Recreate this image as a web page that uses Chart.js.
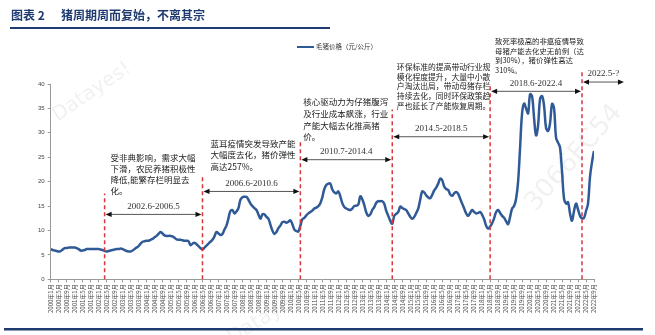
<!DOCTYPE html>
<html>
<head>
<meta charset="utf-8">
<script src="https://cdn.jsdelivr.net/npm/chart.js@4.4.0/dist/chart.umd.min.js"></script>
<style>
  html, body { margin: 0; padding: 0; background: #fff; }
  #wrap { width: 655px; height: 335px; position: relative; }
</style>
</head>
<body>
<div id="wrap"><canvas id="hogChart"></canvas></div>
<script>
// monthly hog price (yuan/kg), Jan 2000 .. Sep 2022
const p2000 = [6.2, 6.0, 5.9, 5.8, 5.7, 5.8, 6.1, 6.4, 6.4, 6.5, 6.5, 6.5];
const p2001 = [6.5, 6.4, 6.2, 5.9, 5.9, 6.0, 6.2, 6.2, 6.2, 6.2, 6.2, 6.2];
const p2002 = [6.2, 6.1, 6.0, 5.8, 5.7, 5.8, 5.9, 6.0, 6.1, 6.2, 6.2, 6.3];
const p2003 = [6.2, 6.0, 5.8, 5.7, 5.7, 5.9, 6.2, 6.5, 6.8, 7.3, 7.7, 7.8];
const p2004 = [7.9, 7.9, 8.1, 8.3, 8.6, 8.9, 9.3, 9.7, 9.4, 9.0, 8.9, 8.9];
const p2005 = [8.9, 8.8, 8.5, 8.2, 8.1, 8.1, 8.0, 7.9, 7.9, 7.8, 7.0, 7.3];
const p2006 = [7.5, 7.2, 6.8, 6.4, 6.1, 6.5, 6.9, 7.3, 7.7, 8.1, 8.8, 9.7];
const p2007 = [9.4, 9.1, 9.3, 10.2, 11.0, 12.5, 14.0, 14.2, 13.5, 13.9, 14.6, 16.3];
const p2008 = [16.8, 16.9, 16.9, 16.3, 15.5, 15.0, 14.6, 14.2, 13.3, 12.4, 13.3, 13.3];
const p2009 = [12.8, 12.4, 11.2, 10.0, 9.3, 9.7, 10.5, 11.0, 11.7, 11.8, 11.6, 11.8];
const p2010 = [12.1, 11.3, 10.2, 9.9, 9.8, 11.0, 12.3, 12.6, 13.1, 13.5, 13.8, 14.1];
const p2011 = [14.5, 14.7, 15.0, 15.6, 16.8, 18.5, 19.3, 19.6, 19.6, 18.4, 17.8, 17.6];
const p2012 = [18.0, 17.0, 15.6, 14.8, 14.5, 14.3, 14.2, 14.5, 15.0, 15.1, 15.3, 17.0];
const p2013 = [16.4, 15.2, 13.7, 13.0, 13.3, 14.2, 14.8, 15.7, 16.0, 16.0, 16.0, 15.5];
const p2014 = [14.0, 13.0, 12.0, 11.4, 13.0, 13.4, 13.8, 14.9, 14.6, 14.4, 14.2, 13.5];
const p2015 = [12.8, 12.4, 12.8, 13.6, 14.5, 16.3, 18.0, 17.8, 17.2, 16.8, 16.6, 17.3];
const p2016 = [18.2, 18.8, 19.6, 20.6, 20.3, 19.0, 18.5, 18.3, 17.4, 17.1, 17.6, 17.9];
const p2017 = [17.5, 16.5, 15.5, 14.5, 13.5, 13.0, 13.6, 14.2, 13.8, 13.5, 13.6, 13.8];
const p2018 = [13.2, 12.3, 11.0, 10.4, 10.8, 11.5, 12.5, 13.8, 14.2, 13.6, 13.0, 12.6];
const p2019 = [11.9, 11.3, 12.8, 14.5, 15.0, 16.5, 20.0, 27.0, 34.0, 36.0, 35.0, 34.0];
const p2020 = [37.9, 37.5, 33.0, 29.5, 31.5, 37.0, 37.5, 35.5, 31.0, 30.4, 32.0, 35.9];
const p2021 = [35.0, 29.0, 28.0, 27.0, 22.0, 16.5, 15.5, 15.8, 13.5, 12.0, 14.0, 15.5];
const p2022 = [14.3, 13.0, 12.5, 12.6, 14.0, 15.5, 21.0, 24.0, 26.3];

const yearRows = [p2000, p2001, p2002, p2003, p2004, p2005, p2006, p2007, p2008, p2009, p2010, p2011,
                  p2012, p2013, p2014, p2015, p2016, p2017, p2018, p2019, p2020, p2021, p2022];
const prices = yearRows.flat();

const monthLabels = [];
yearRows.forEach((row, yi) => row.forEach((v, mi) => monthLabels.push((2000 + yi) + '年' + (mi + 1) + '月')));

const yTicks = [0, 5, 10, 15, 20, 25, 30, 35, 40];

// cycle split points (month index from Jan 2000) and labels
const cycleBreaks = [27, 76, 125, 171, 220, 266];
const cycleEnd = 287.5;
const cycleLabels = ['2002.6-2006.5', '2006.6-2010.6', '2010.7-2014.4', '2014.5-2018.5', '2018.6-2022.4', '2022.5-?'];
const breakTops = [17.6, 21.1, 28.6, 34.8, 39.6, 42.9];
const arrowLevels = [13.3, 18.0, 24.5, 29.2, 38.5, 40.4];

const cycleNotes = [
  ['受非典影响，需求大幅', '下滑，农民养猪积极性', '降低,能繁存栏明显去', '化。'],
  ['蓝耳疫情突发导致产能', '大幅度去化，猪价弹性', '高达257%。'],
  ['核心驱动力为仔猪腹泻', '及行业成本飙涨，行业', '产能大幅去化推高猪', '价。'],
  ['环保标准的提高带动行业规', '模化程度提升，大量中小散', '户淘汰出局，带动母猪存栏', '持续去化，同时环保政策趋', '严也延长了产能恢复周期。'],
  ['致死率极高的非瘟疫情导致', '母猪产能去化史无前例（达', '到30%），猪价弹性高达', '310%。']
];
const noteAnchors = [[30, 24.8], [80, 27.8], [126.5, 36.3], [173.3, 43.5], [222.5, 48.7]];
const noteFont = [8.5, 8.5, 8.5, 7.8, 7.4];
const noteLead = [11, 11.6, 11.7, 9.8, 9.4];

const BLUE = '#2f5a96';
const NAVY = '#1f3b70';
const CJK = '"Noto Sans CJK SC", "Noto Sans", sans-serif';

function arrowHead(ctx, x, y, dir) {
  ctx.beginPath();
  ctx.moveTo(x, y);
  ctx.lineTo(x - dir * 6, y - 2.6);
  ctx.lineTo(x - dir * 6, y + 2.6);
  ctx.closePath();
  ctx.fill();
}

const cyclePlugin = {
  id: 'cycles',
  beforeDraw(chart) {
    const ctx = chart.ctx;
    ctx.save();
    ctx.fillStyle = '#fff';
    ctx.fillRect(0, 0, chart.width, chart.height);
    // faint watermarks
    ctx.fillStyle = 'rgba(0,0,0,0.06)';
    ctx.textAlign = 'center';
    ctx.textBaseline = 'middle';
    [['Datayes!', 92, 92, -0.6, 20], ['Datayes!', 268, 316, -0.55, 20], ['3066FC54', 574, 158, -0.85, 26]]
      .forEach(([t, x, y, r, s]) => {
        ctx.save();
        ctx.translate(x, y);
        ctx.rotate(r);
        ctx.font = s + 'px "DejaVu Sans", sans-serif';
        ctx.fillText(t, 0, 0);
        ctx.restore();
      });
    ctx.restore();
  },
  afterDraw(chart) {
    const ctx = chart.ctx;
    const xs = chart.scales.x, ys = chart.scales.y;
    const bottom = chart.chartArea.bottom;
    ctx.save();

    // title block
    ctx.fillStyle = NAVY;
    ctx.textBaseline = 'middle';
    ctx.textAlign = 'left';
    ctx.font = 'bold 12px ' + CJK;
    ctx.fillText('图表 2', 11, 15);
    ctx.fillText('猪周期周而复始，不离其宗', 61, 15);
    ctx.fillRect(10, 27, 320, 2);
    ctx.fillRect(4, 328, 639, 2.5);

    // legend
    const ds = chart.data.datasets[0];
    ctx.strokeStyle = ds.borderColor;
    ctx.lineWidth = 2;
    ctx.beginPath();
    ctx.moveTo(297, 47);
    ctx.lineTo(314, 47);
    ctx.stroke();
    ctx.fillStyle = '#333';
    ctx.font = '6.5px ' + CJK;
    ctx.fillText(ds.label, 316, 47);

    // dashed cycle boundaries
    ctx.strokeStyle = '#d9363e';
    ctx.lineWidth = 1.5;
    ctx.setLineDash([4, 3]);
    cycleBreaks.forEach((m, i) => {
      const x = xs.getPixelForValue(m);
      ctx.beginPath();
      ctx.moveTo(x, bottom);
      ctx.lineTo(x, ys.getPixelForValue(breakTops[i]));
      ctx.stroke();
    });
    ctx.setLineDash([]);

    // double arrows with period labels
    cycleLabels.forEach((lab, i) => {
      const x1 = xs.getPixelForValue(cycleBreaks[i]) + 1;
      const x2 = xs.getPixelForValue(i + 1 < cycleBreaks.length ? cycleBreaks[i + 1] : cycleEnd) - 1;
      const y = ys.getPixelForValue(arrowLevels[i]);
      ctx.strokeStyle = '#555';
      ctx.lineWidth = 1;
      ctx.beginPath();
      ctx.moveTo(x1 + 4, y);
      ctx.lineTo(x2 - 4, y);
      ctx.stroke();
      ctx.fillStyle = '#111';
      arrowHead(ctx, x1, y, -1);
      arrowHead(ctx, x2, y, 1);
      ctx.fillStyle = '#333';
      ctx.font = '9px "Liberation Serif", serif';
      ctx.textAlign = 'center';
      ctx.fillText(lab, (x1 + x2) / 2, y - 8);
    });

    // explanatory notes
    ctx.textAlign = 'left';
    ctx.fillStyle = '#222';
    cycleNotes.forEach((lines, i) => {
      const x = xs.getPixelForValue(noteAnchors[i][0]);
      const y0 = ys.getPixelForValue(noteAnchors[i][1]);
      ctx.font = noteFont[i] + 'px ' + CJK;
      lines.forEach((t, k) => ctx.fillText(t, x, y0 + k * noteLead[i]));
    });
    ctx.restore();
  }
};

new Chart(document.getElementById('hogChart'), {
  type: 'line',
  data: {
    datasets: [{
      label: '毛猪价格（元/公斤）',
      data: prices.map((v, i) => ({ x: i, y: v })),
      borderColor: BLUE,
      backgroundColor: BLUE,
      borderWidth: 2.5,
      pointRadius: 0,
      tension: 0.4,
      fill: false
    }]
  },
  options: {
    responsive: true,
    maintainAspectRatio: false,
    animation: false,
    devicePixelRatio: 1,
    layout: { padding: { top: 84, left: 35, right: 61, bottom: 20 } },
    plugins: {
      legend: { display: false },
      tooltip: { enabled: false }
    },
    scales: {
      x: {
        type: 'linear',
        min: 0,
        max: prices.length - 1,
        grid: { drawOnChartArea: false, color: '#999', tickLength: 3 },
        border: { color: '#999' },
        ticks: {
          stepSize: 4,
          autoSkip: false,
          maxRotation: 90,
          minRotation: 90,
          padding: 2,
          color: '#444',
          font: { size: 6, family: CJK },
          callback: v => monthLabels[v]
        }
      },
      y: {
        min: 0,
        max: 40,
        afterBuildTicks: axis => { axis.ticks = yTicks.map(v => ({ value: v })); },
        grid: { drawOnChartArea: false, color: '#999', tickLength: 3 },
        border: { color: '#999' },
        ticks: {
          padding: 3,
          color: '#444',
          font: { size: 6, family: '"Liberation Sans", sans-serif' }
        }
      }
    }
  },
  plugins: [cyclePlugin]
});
</script>
</body>
</html>
